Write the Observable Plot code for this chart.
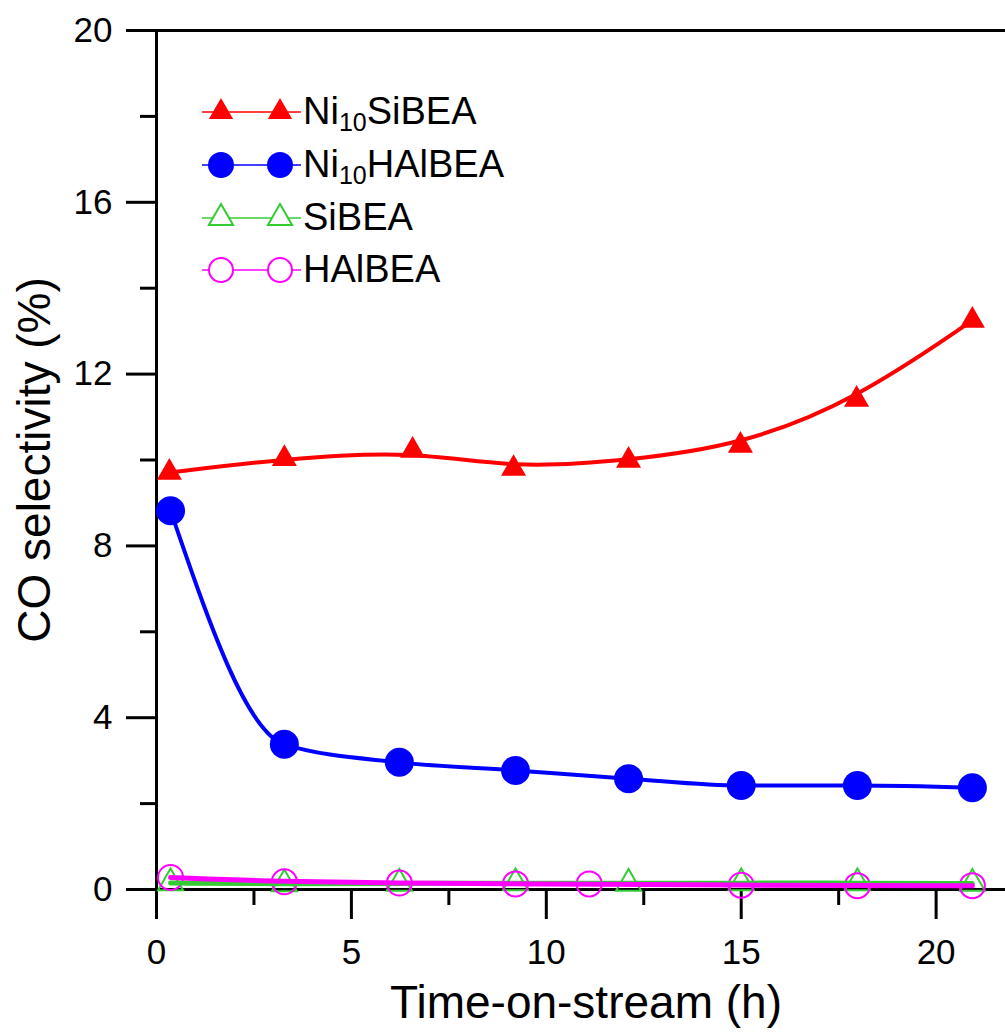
<!DOCTYPE html>
<html>
<head>
<meta charset="utf-8">
<script src="https://cdn.jsdelivr.net/npm/d3@7"></script>
<script src="https://cdn.jsdelivr.net/npm/@observablehq/plot@0.6"></script>
<style>
  html, body { margin: 0; padding: 0; background: white; }
  #wrap { position: relative; width: 1005px; height: 1032px; overflow: hidden; }
  #legend { position: absolute; left: 0; top: 0; }
</style>
</head>
<body>
<div id="wrap"></div>
<script>
// ---- data ----
const seriesNames = ["Ni10SiBEA", "Ni10HAlBEA", "SiBEA", "HAlBEA"];
const seriesColors = ["#ff0000", "#0000ff", "#33cc33", "#ff00ff"];

const ni10SiBEATime = [0.33, 3.28, 6.57, 9.16, 12.11, 14.98, 17.96, 20.93];
const ni10SiBEAValue = [9.71, 10.03, 10.22, 9.80, 9.99, 10.34, 11.41, 13.25];

const ni10HAlBEATime = [0.36, 3.28, 6.23, 9.21, 12.11, 15.0, 17.98, 20.93];
const ni10HAlBEAValue = [8.82, 3.38, 2.96, 2.77, 2.58, 2.42, 2.42, 2.37];

const siBEATime = [0.36, 3.28, 6.23, 9.21, 12.11, 15.0, 17.98, 20.93];
const siBEAValue = [0.15, 0.13, 0.14, 0.15, 0.14, 0.15, 0.15, 0.14];

const hAlBEATime = [0.36, 3.28, 6.23, 9.21, 11.1, 15.0, 17.98, 20.93];
const hAlBEAValue = [0.28, 0.18, 0.15, 0.13, 0.13, 0.10, 0.09, 0.09];

const xMajorTicks = [0, 5, 10, 15, 20];
const xMinorTicks = [2.5, 7.5, 12.5, 17.5];
const yMajorTicks = [0, 4, 8, 12, 16, 20];
const yMinorTicks = [2, 6, 10, 14, 18];

const xTitle = "Time-on-stream (h)";
const yTitle = "CO selectivity (%)";

// ---- build tables ----
const toRows = (ts, vs) => ts.map((t, i) => ({t, v: vs[i]}));
const red = toRows(ni10SiBEATime, ni10SiBEAValue);
const blue = toRows(ni10HAlBEATime, ni10HAlBEAValue);
const green = toRows(siBEATime, siBEAValue);
const mag = toRows(hAlBEATime, hAlBEAValue);

const fontFamily = "'Liberation Sans', Arial, Helvetica, sans-serif";

const chart = Plot.plot({
  width: 1005,
  height: 1032,
  marginLeft: 156,
  marginRight: 0,
  marginTop: 30,
  marginBottom: 143,
  x: {domain: [0, 21.78]},
  y: {domain: [0, 20]},
  style: {fontFamily, fontSize: "35px", color: "black", background: "white"},
  marks: [
    Plot.axisX(xMajorTicks, {tickSize: 30, tickPadding: 20, strokeWidth: 3, fontSize: 35, label: null}),
    Plot.axisX(xMinorTicks, {tickSize: 16, strokeWidth: 3, tickFormat: () => "", label: null}),
    Plot.axisY(yMajorTicks, {tickSize: 30, tickPadding: 14, strokeWidth: 3, fontSize: 35, label: null}),
    Plot.axisY(yMinorTicks, {tickSize: 16, strokeWidth: 3, tickFormat: () => "", label: null}),
    Plot.ruleY([0, 20], {strokeWidth: 3, stroke: "black"}),
    Plot.ruleX([0], {strokeWidth: 3, stroke: "black"}),

    Plot.dot(green, {x: "t", y: "v", symbol: "triangle", r: 9.3, stroke: seriesColors[2], strokeWidth: 2, fill: "none"}),
    Plot.dot(mag, {x: "t", y: "v", symbol: "circle", r: 12.5, stroke: seriesColors[3], strokeWidth: 2, fill: "none"}),
    Plot.line(green, {x: "t", y: "v", curve: "basis", stroke: seriesColors[2], strokeWidth: 5}),
    Plot.line(mag, {x: "t", y: "v", curve: "basis", stroke: seriesColors[3], strokeWidth: 5}),

    Plot.line(red, {x: "t", y: "v", curve: "basis", stroke: seriesColors[0], strokeWidth: 4}),
    Plot.line(blue, {x: "t", y: "v", curve: "monotone-x", stroke: seriesColors[1], strokeWidth: 4}),
    Plot.dot(red, {x: "t", y: "v", symbol: "triangle", r: 9.3, fill: seriesColors[0], stroke: "none"}),
    Plot.dot(blue, {x: "t", y: "v", symbol: "circle", r: 14.5, fill: seriesColors[1], stroke: "none"}),

    Plot.text([xTitle], {text: d => d, frameAnchor: "bottom", textAnchor: "middle", lineAnchor: "middle", dx: 5, dy: 114, fontSize: 46, fill: "black"}),
    Plot.text([yTitle], {text: d => d, frameAnchor: "left", textAnchor: "middle", lineAnchor: "middle", rotate: -90, dx: -121, dy: 0, fontSize: 46, fill: "black"})
  ]
});

const wrap = document.getElementById("wrap");
wrap.appendChild(chart);

// ---- legend overlay (inside plot area, top-left) ----
const legendRowsY = [112, 165, 218, 270];
const symbols = [d3.symbolTriangle, d3.symbolCircle, d3.symbolTriangle, d3.symbolCircle];
const filled = [true, true, false, false];
const symSizes = [ (9 * 9) * Math.PI, (13 * 13) * Math.PI, (9 * 9) * Math.PI, (12 * 12) * Math.PI ];

const leg = d3.select(wrap).append("svg")
  .attr("id", "legend")
  .attr("width", 1005).attr("height", 320)
  .style("font-family", fontFamily);

seriesNames.forEach((name, i) => {
  const y = legendRowsY[i];
  const g = leg.append("g");
  g.append("line").attr("x1", 202).attr("x2", 301).attr("y1", y).attr("y2", y)
    .attr("stroke", seriesColors[i]).attr("stroke-width", 1.5);
  [221, 280].forEach(cx => {
    g.append("path")
      .attr("d", d3.symbol(symbols[i], symSizes[i])())
      .attr("transform", `translate(${cx},${y})`)
      .attr("fill", filled[i] ? seriesColors[i] : "white")
      .attr("stroke", filled[i] ? "none" : seriesColors[i])
      .attr("stroke-width", 2);
  });
  const t = g.append("text").attr("x", 303).attr("y", y + 12).attr("font-size", 38).attr("fill", "black");
  const m = name.match(/^(Ni)(10)(.*)$/);
  if (m) {
    t.append("tspan").text(m[1]);
    t.append("tspan").text(m[2]).attr("font-size", 25).attr("dy", 7);
    t.append("tspan").text(m[3]).attr("dy", -7);
  } else {
    t.text(name);
  }
});
</script>
</body>
</html>
